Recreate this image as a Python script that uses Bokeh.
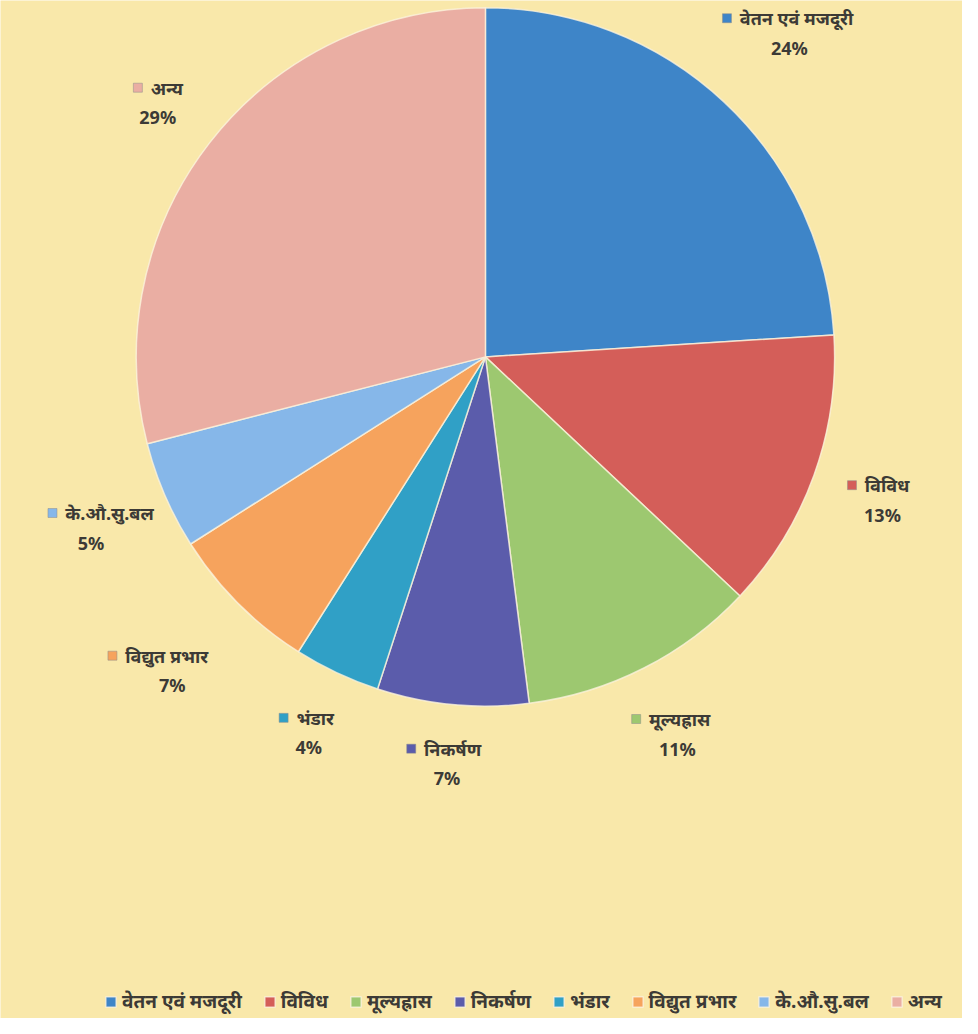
import math
import unicodedata
from bokeh.plotting import figure
from bokeh.models import ColumnDataSource, Legend, LegendItem, Range1d
from bokeh.core.properties import value
from bokeh.embed import file_html
from bokeh.resources import INLINE

categories = ["वेतन एवं मजदूरी", "विविध", "मूल्यह्रास", "निकर्षण", "भंडार",
              "विद्युत प्रभार", "के.औ.सु.बल", "अन्य"]
shares = [24, 13, 11, 7, 4, 7, 5, 29]
colors = ["#3e85c8", "#d45e59", "#9dc870", "#5b5cab", "#30a0c6",
          "#f6a35d", "#86b7e9", "#eaaea3"]

W, H = 962, 1018
XR, YR = 978, 1034          # data units follow the reference picture's pixels
BG = "#f9e8aa"
FONT = "Noto Sans"
TXT = "#3c3a36"

p = figure(width=W, height=H, x_range=Range1d(0, XR), y_range=Range1d(0, YR),
           output_backend="svg", toolbar_location=None, min_border=0)
p.axis.visible = False
p.grid.visible = False
p.outline_line_color = None
p.background_fill_color = BG
p.border_fill_color = BG

cx, cy, R = 493, 672, 355
total = float(sum(shares))
starts, ends, mids = [], [], []
acc = 0.0
for s in shares:
    f0 = acc / total
    acc += s
    f1 = acc / total
    starts.append(math.pi / 2 - 2 * math.pi * f0)
    ends.append(math.pi / 2 - 2 * math.pi * f1)
    mids.append((f0 + f1) / 2)

src = ColumnDataSource(dict(cat=categories, share=shares, color=colors,
                            start=starts, end=ends))
r = p.wedge(x=cx, y=cy, radius=R, start_angle="start", end_angle="end",
            direction="clock", fill_color="color", line_color="#fbf3dc",
            line_alpha=0.8, line_width=1.5, source=src)

# data labels: box placed outside the pie along the slice's mid-angle
FS = 18
GAP = 32
BOX_H = 48


def est_width(t):
    w = 0.0
    for ch in t:
        if unicodedata.category(ch) == "Mn":
            continue
        if ch in " .":
            w += 0.3 * FS
        else:
            w += 0.6 * FS
    return w


sq_x, sq_y, sq_c, nm_x, nm_y, nm_t, pc_x, pc_y, pc_t = [], [], [], [], [], [], [], [], []
for i, cat in enumerate(categories):
    a = 2 * math.pi * mids[i]
    ux, uy = math.sin(a), math.cos(a)
    w = est_width(cat)
    tot = 10 + 8 + w
    ext = abs(ux) * tot / 2 + abs(uy) * BOX_H / 2
    dist = R + GAP + ext
    lx = cx + dist * ux
    ly = cy + dist * uy
    left = lx - tot / 2
    sq_x.append(left + 5)
    sq_y.append(ly + 15)
    sq_c.append(colors[i])
    nm_x.append(left + 18)
    nm_y.append(ly + 15)
    nm_t.append(cat)
    pc_x.append(lx)
    pc_y.append(ly - 15)
    pc_t.append(f"{shares[i]}%")

p.scatter(x=sq_x, y=sq_y, marker="square", size=9, fill_color=sq_c,
          line_color="#8c8c8c", line_width=0.5)
p.text(x=nm_x, y=nm_y, text=nm_t, text_font=value(FONT), text_font_size=f"{FS}px",
       text_font_style="bold", text_color=TXT, text_align="left", text_baseline="middle")
p.text(x=pc_x, y=pc_y, text=pc_t, text_font=value(FONT), text_font_size=f"{FS}px",
       text_font_style="bold", text_color=TXT, text_align="center", text_baseline="middle")

items = [LegendItem(label=categories[i], renderers=[r], index=i) for i in range(len(categories))]
legend = Legend(items=items, orientation="horizontal", location=(104, 4),
                background_fill_alpha=0, border_line_color=None,
                label_text_font=FONT, label_text_font_size="19px",
                label_text_font_style="bold", label_text_color=TXT,
                glyph_width=13, glyph_height=13, spacing=21, padding=2, margin=0,
                label_standoff=5, label_height=20)
p.add_layout(legend, "center")

open("out.html", "w").write(file_html(p, INLINE))
